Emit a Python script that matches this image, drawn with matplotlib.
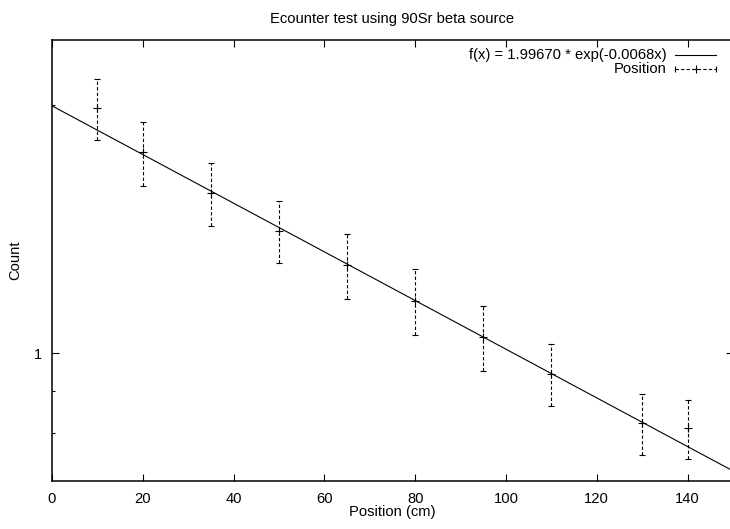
import numpy as np
import matplotlib
matplotlib.use("Agg")
import matplotlib.pyplot as plt
from matplotlib.ticker import FixedLocator, NullFormatter

plt.rcParams['font.family'] = ['Liberation Sans', 'DejaVu Sans']

# measured counts vs position
position = [10, 20, 35, 50, 65, 80, 95, 110, 130, 140]
count = [1.984, 1.753, 1.565, 1.409, 1.280, 1.159, 1.046, 0.945, 0.822, 0.811]
count_err = [0.170, 0.155, 0.136, 0.122, 0.115, 0.106, 0.095, 0.082, 0.070, 0.067]

# fit parameters f(x) = a * exp(b x)
fit_a = 1.99670
fit_b = -0.0068

FS = 10.6

fig = plt.figure(figsize=(7.30, 5.29), dpi=100)
ax = fig.add_axes([52 / 730, 48 / 529, 681 / 730, 441 / 529])

xs = np.linspace(0, 150, 300)
ax.plot(xs, fit_a * np.exp(fit_b * xs), color='black', lw=0.8)

ax.errorbar(position, count, yerr=count_err, fmt='none', ecolor='black',
            elinewidth=0.8, capsize=2, capthick=0.8)
eb = ax.containers[-1]
for lc in eb.lines[2]:
    lc.set_linestyle((0, (3, 2)))
ax.plot(position, count, linestyle='none', marker='+', color='black',
        markersize=6, markeredgewidth=0.8)

ax.set_yscale('log')
ax.set_xlim(0, 150)
ax.set_ylim(0.7, 2.4)

ax.xaxis.set_major_locator(FixedLocator([0, 20, 40, 60, 80, 100, 120, 140]))
ax.xaxis.set_minor_locator(FixedLocator([]))
ax.yaxis.set_major_locator(FixedLocator([1]))
ax.yaxis.set_major_formatter(plt.FixedFormatter(['1']))
ax.yaxis.set_minor_locator(FixedLocator([0.8, 0.9, 2]))
ax.yaxis.set_minor_formatter(NullFormatter())

ax.tick_params(which='both', direction='in', top=True, right=True,
               labelsize=FS, width=0.8, color='black')
ax.tick_params(which='major', length=5)
ax.tick_params(which='minor', length=2.5)
ax.tick_params(axis='x', pad=8)
ax.tick_params(axis='y', pad=7)

for s in ax.spines.values():
    s.set_linewidth(1.1)

ax.set_title('Ecounter test using 90Sr beta source', fontsize=FS, pad=12)
ax.set_xlabel('Position (cm)', fontsize=FS, labelpad=-1)
ax.set_ylabel('Count', fontsize=FS)
ax.yaxis.set_label_coords(-0.044, 0.5)

# gnuplot-style key, text left of sample
tr = ax.transAxes
ax.text(0.903, 0.966, 'f(x) = 1.99670 * exp(-0.0068x)', transform=tr,
        ha='right', va='center', fontsize=FS)
ax.plot([0.915, 0.975], [0.966, 0.966], transform=tr, color='black', lw=0.8,
        clip_on=False)
ax.text(0.903, 0.934, 'Position', transform=tr, ha='right', va='center',
        fontsize=FS)
ax.plot([0.915, 0.975], [0.934, 0.934], transform=tr, color='black', lw=0.8,
        linestyle=(0, (3, 2)), clip_on=False)
ax.plot([0.945], [0.934], transform=tr, marker='+', color='black',
        markersize=6, markeredgewidth=0.8, clip_on=False)
ax.plot([0.915, 0.975], [0.934, 0.934], transform=tr, linestyle='none',
        marker='|', color='black', markersize=4, markeredgewidth=0.8,
        clip_on=False)

fig.savefig('out.png', dpi=100)
